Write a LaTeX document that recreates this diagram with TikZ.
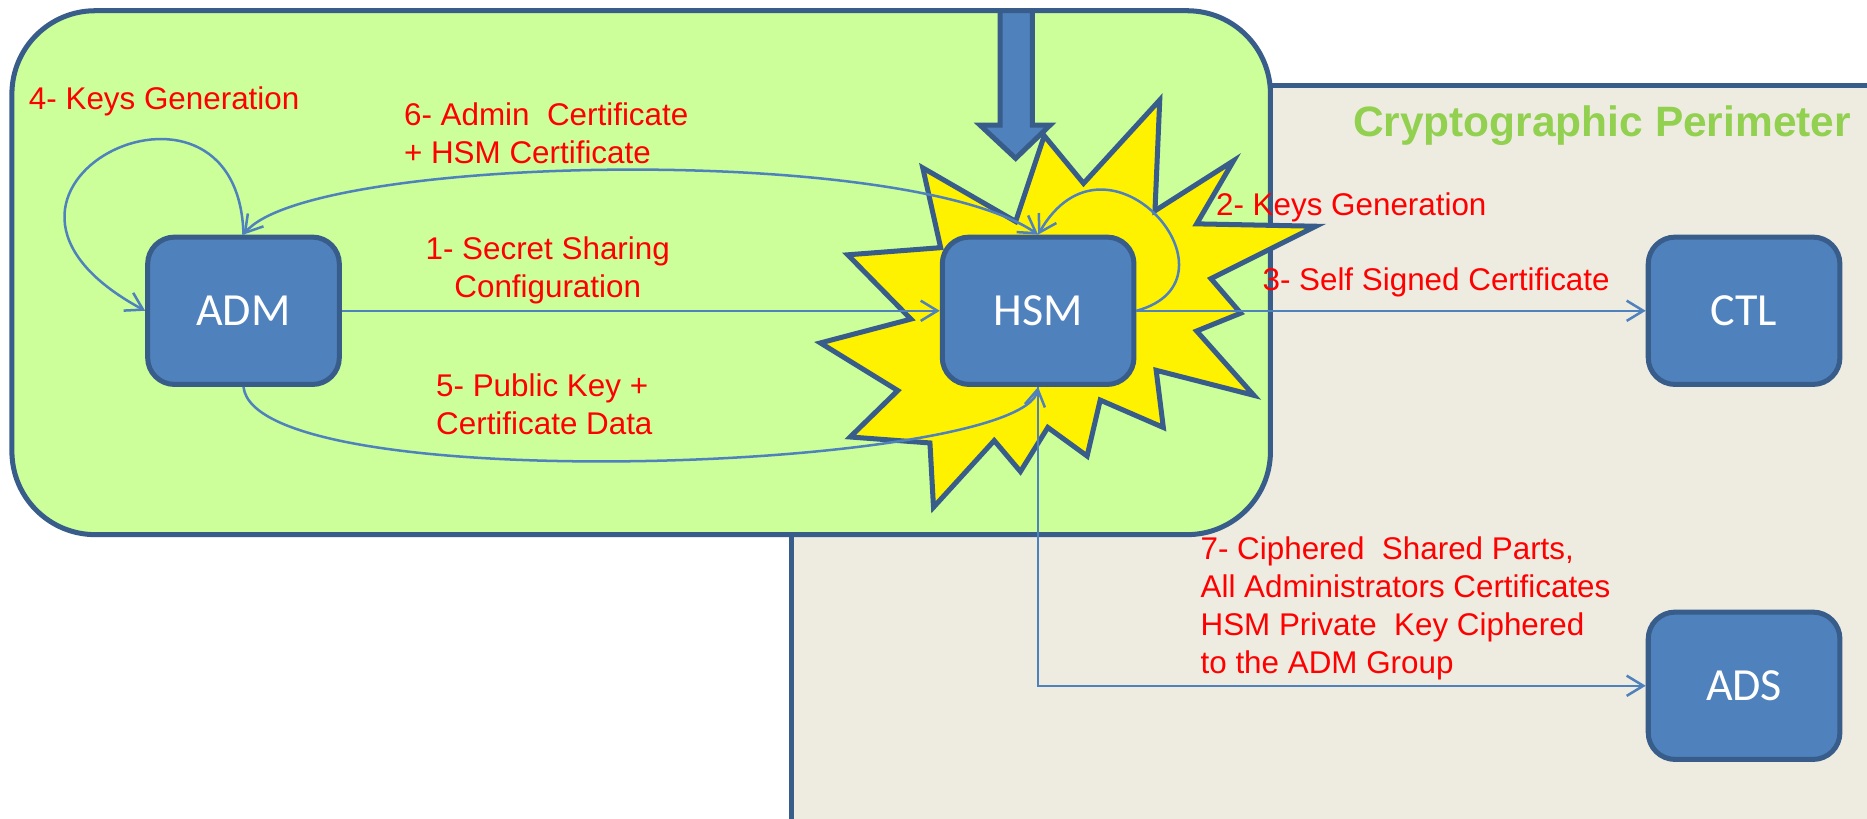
\documentclass[tikz,border=0pt]{standalone}
\usepackage{fontspec}
\setmainfont{Liberation Sans}
\newfontfamily\boxfont{Carlito}
\usetikzlibrary{positioning, arrows.meta}

\definecolor{boxblue}{HTML}{4F81BD}
\definecolor{boxedge}{HTML}{385D8A}
\definecolor{zonegreen}{HTML}{CCFF99}
\definecolor{zonegray}{HTML}{EEECE1}
\definecolor{titlegreen}{HTML}{92D050}

\begin{document}
\begin{tikzpicture}[x=0.02cm, y=-0.02cm, on grid,
  >={Straight Barb[length=0.28cm,width=0.34cm]},
  box/.style={draw=boxedge, line width=2.4pt, fill=boxblue, rounded corners=0.45cm,
    minimum width=3.22cm, minimum height=2.475cm, text=white,
    font=\boxfont\fontsize{22}{26}\selectfont},
  msg/.style={->, draw=boxblue, line width=1.2pt},
  lbl/.style={text=red, font=\fontsize{15}{18.2}\selectfont, align=left,
    inner sep=0pt, anchor=base west},
  zone/.style={draw=boxedge, line width=2.4pt}]
  \useasboundingbox (0,0) rectangle (1568,687);
  \clip (0,0) rectangle (1568,687);
  \fill[white] (0,0) rectangle (1568,687);

  % perimeter and admin zone
  \draw[zone, fill=zonegray] (664.5,72) rectangle (1600,720);
  \draw[zone, fill=zonegreen, rounded corners=1.4cm] (10,9) rectangle (1067,449);
  \draw[zone, fill=boxblue, line join=miter] (840,9) -- (840,105) -- (823,105) -- (853,133)
    -- (882,105) -- (867,105) -- (867,9) -- cycle;
  \draw[zone, fill=yellow] (877,114) -- (910,154) -- (974,84) -- (970,177) -- (1036,135)
    -- (1005,188) -- (1105,190) -- (1017,234) -- (1042,263) -- (1005,278) -- (1053,332)
    -- (971,311) -- (977,359) -- (924,336) -- (913,383) -- (880,359) -- (857,396)
    -- (835,370) -- (784,426) -- (781,372) -- (714,367) -- (754,328) -- (689,288)
    -- (765,268) -- (712,214) -- (790,208) -- (775,141) -- (853,186) -- cycle;

  \node[box] (ADM) at (204.5,261) {ADM};
  \node[box] (HSM) [right=13.35cm of ADM] {HSM};
  \node[box] (CTL) [right=11.86cm of HSM] {CTL};
  \node[box] (ADS) [below=6.3cm of CTL] {ADS};

  \draw[msg] (ADM.east) -- (HSM.west);
  \draw[msg] (HSM.east) .. controls (1050,235) and (930,95) .. (HSM.north);
  \draw[msg] (HSM.east) -- (CTL.west);
  \draw[msg] (ADM.north) .. controls (200,30) and (-65,160) .. (ADM.west);
  \draw[msg] (ADM.south) .. controls (215,420) and (860,395) .. (HSM.south);
  \draw[msg, <->] (ADM.north) .. controls (260,130) and (760,120) .. (HSM.north);
  \draw[msg] (HSM.south) |- (ADS.west);

  % labels (base = last line)
  \node[lbl] (keysADM) at (24,92) {4- Keys Generation};
  \node[lbl] (certs) at (339,137) {6- Admin~ Certificate\\+ HSM Certificate};
  \node[lbl, align=center, anchor=base] (sharing) at (460,250) {1- Secret Sharing\\Configuration};
  \node[lbl] (pubkey) at (366,365) {5- Public Key +\\Certificate Data};
  \node[lbl] (keysHSM) at (1021,181) {2- Keys Generation};
  \node[lbl] (selfcert) at (1060,244) {3- Self Signed Certificate};
  \node[lbl] (parts) at (1008,566) {7- Ciphered~ Shared Parts,\\All Administrators Certificates\\HSM Private~ Key Ciphered\\to the ADM Group};
  \node[text=titlegreen, font=\bfseries\fontsize{20.3}{24}\selectfont, inner sep=0pt,
    anchor=base west] (perimeter) at (1136,115) {Cryptographic Perimeter};
\end{tikzpicture}
\end{document}
